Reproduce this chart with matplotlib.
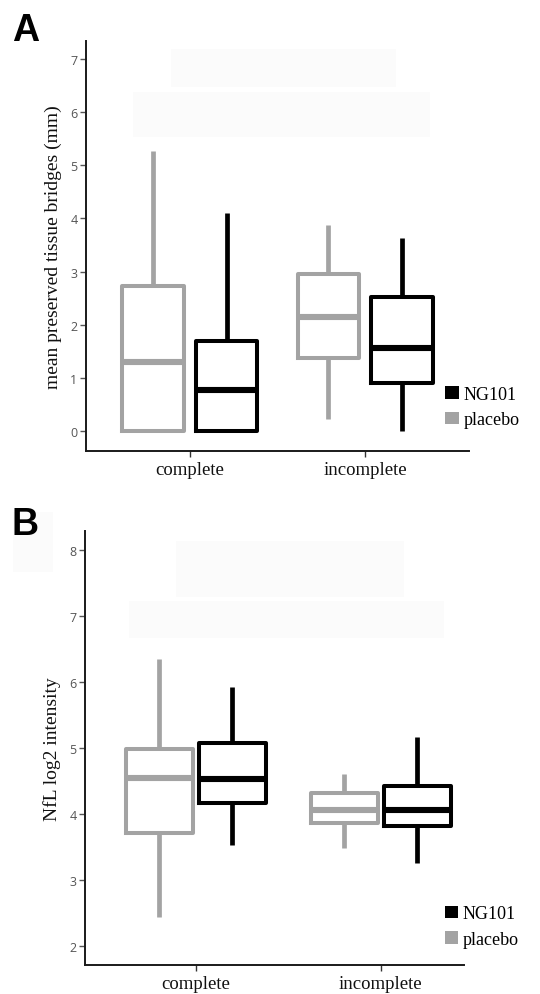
import matplotlib
matplotlib.use("Agg")
import matplotlib.pyplot as plt
from matplotlib.patches import Rectangle, Patch

# ---------------- data ----------------
categories = ["complete", "incomplete"]
groups = ["placebo", "NG101"]

# Panel A: mean preserved tissue bridges (mm)
a_placebo_whislo = [0.00, 0.23]
a_placebo_q1 = [0.00, 1.37]
a_placebo_med = [1.30, 2.14]
a_placebo_q3 = [2.73, 2.95]
a_placebo_whishi = [5.26, 3.88]

a_ng_whislo = [0.00, 0.00]
a_ng_q1 = [0.00, 0.90]
a_ng_med = [0.78, 1.57]
a_ng_q3 = [1.69, 2.53]
a_ng_whishi = [4.10, 3.64]

a_yticks = [0, 1, 2, 3, 4, 5, 6, 7]

# Panel B: NfL log2 intensity
b_placebo_whislo = [2.44, 3.48]
b_placebo_q1 = [3.71, 3.86]
b_placebo_med = [4.54, 4.06]
b_placebo_q3 = [4.99, 4.31]
b_placebo_whishi = [6.34, 4.60]

b_ng_whislo = [3.53, 3.25]
b_ng_q1 = [4.17, 3.81]
b_ng_med = [4.53, 4.06]
b_ng_q3 = [5.08, 4.42]
b_ng_whishi = [5.93, 5.17]

b_yticks = [2, 3, 4, 5, 6, 7, 8]

GRAY = "#a3a3a3"
BLACK = "#000000"
SERIF = ["Liberation Serif", "DejaVu Serif"]
SANS = ["Open Sans", "DejaVu Sans"]


def stats(lo, q1, med, q3, hi):
    return [dict(whislo=lo[i], q1=q1[i], med=med[i], q3=q3[i], whishi=hi[i],
                 fliers=[]) for i in range(len(lo))]


def draw_group(ax, st, positions, color, width):
    ax.bxp(st, positions=positions, widths=width, showfliers=False,
           showcaps=False, patch_artist=False,
           boxprops=dict(color=color, linewidth=2.9),
           whiskerprops=dict(color=color, linewidth=3.4, solid_capstyle="butt"),
           medianprops=dict(color=color, linewidth=4.4, solid_capstyle="butt"),
           manage_ticks=False)


def style_axes(ax, yticks, ylabel):
    for s in ["top", "right"]:
        ax.spines[s].set_visible(False)
    for s in ["left", "bottom"]:
        ax.spines[s].set_color("#1a1a1a")
        ax.spines[s].set_linewidth(1.4)
    ax.set_yticks(yticks)
    ax.set_yticklabels([str(t) for t in yticks], fontfamily=SANS,
                       fontsize=9, color="#555555")
    ax.set_xticks([1, 2])
    ax.set_xticklabels(categories, fontfamily=SERIF, fontsize=13.5, color="#111111")
    ax.tick_params(axis="y", length=4, width=1, color="#555555", pad=2)
    ax.tick_params(axis="x", length=4, width=1, color="#333333", pad=3)
    ax.set_ylabel(ylabel, fontfamily=SERIF, fontsize=14, color="#111111",
                  labelpad=6)
    handles = [Patch(facecolor=BLACK, edgecolor="none", label="NG101"),
               Patch(facecolor=GRAY, edgecolor="none", label="placebo")]
    return handles


fig = plt.figure(figsize=(5.40, 9.95), dpi=100)

# faint background rectangles (remnants in the original image)
for (x0, y0, x1, y1) in [(171, 50, 396, 88), (133, 93, 430, 138),
                         (176, 542, 404, 598), (129, 602, 444, 639),
                         (13, 513, 53, 573)]:
    fig.patches.append(Rectangle((x0 / 540, 1 - y1 / 995), (x1 - x0) / 540,
                                 (y1 - y0) / 995, transform=fig.transFigure,
                                 facecolor="#fbfbfb", edgecolor="none",
                                 zorder=0))

pos = [1, 2]
leg_kw = dict(frameon=False, prop=dict(family=SERIF, size=13),
              handlelength=0.75, handleheight=0.7, handletextpad=0.25,
              labelspacing=0.45, borderaxespad=0, loc="upper left")

# ---------- Panel A ----------
axA = fig.add_axes([0.159, 0.5457, 0.710, 0.4121])
axA.patch.set_alpha(0)
draw_group(axA, stats(a_placebo_whislo, a_placebo_q1, a_placebo_med,
                      a_placebo_q3, a_placebo_whishi),
           [p - 0.21 for p in pos], GRAY, 0.35)
draw_group(axA, stats(a_ng_whislo, a_ng_q1, a_ng_med, a_ng_q3, a_ng_whishi),
           [p + 0.21 for p in pos], BLACK, 0.35)
axA.set_xlim(0.406, 2.594)
axA.set_ylim(-0.376, 7.339)
hA = style_axes(axA, a_yticks, "mean preserved tissue bridges (mm)")
axA.legend(handles=hA, bbox_to_anchor=(0.919, 0.176), **leg_kw)

# ---------- Panel B ----------
axB = fig.add_axes([0.157, 0.0291, 0.702, 0.4362])
axB.patch.set_alpha(0)
draw_group(axB, stats(b_placebo_whislo, b_placebo_q1, b_placebo_med,
                      b_placebo_q3, b_placebo_whishi),
           [p - 0.197 for p in pos], GRAY, 0.36)
draw_group(axB, stats(b_ng_whislo, b_ng_q1, b_ng_med, b_ng_q3, b_ng_whishi),
           [p + 0.197 for p in pos], BLACK, 0.36)
axB.set_xlim(0.40, 2.449)
axB.set_ylim(1.707, 8.288)
hB = style_axes(axB, b_yticks, "NfL log2 intensity")
axB.legend(handles=hB, bbox_to_anchor=(0.931, 0.154), **leg_kw)

fig.text(12 / 540, 1 - 41 / 995, "A", fontfamily=["Liberation Sans", "DejaVu Sans"],
         fontweight="bold", fontsize=27, va="baseline")
fig.text(12 / 540, 1 - 535 / 995, "B", fontfamily=["Liberation Sans", "DejaVu Sans"],
         fontweight="bold", fontsize=27, va="baseline")

fig.savefig("out.png", dpi=100)
